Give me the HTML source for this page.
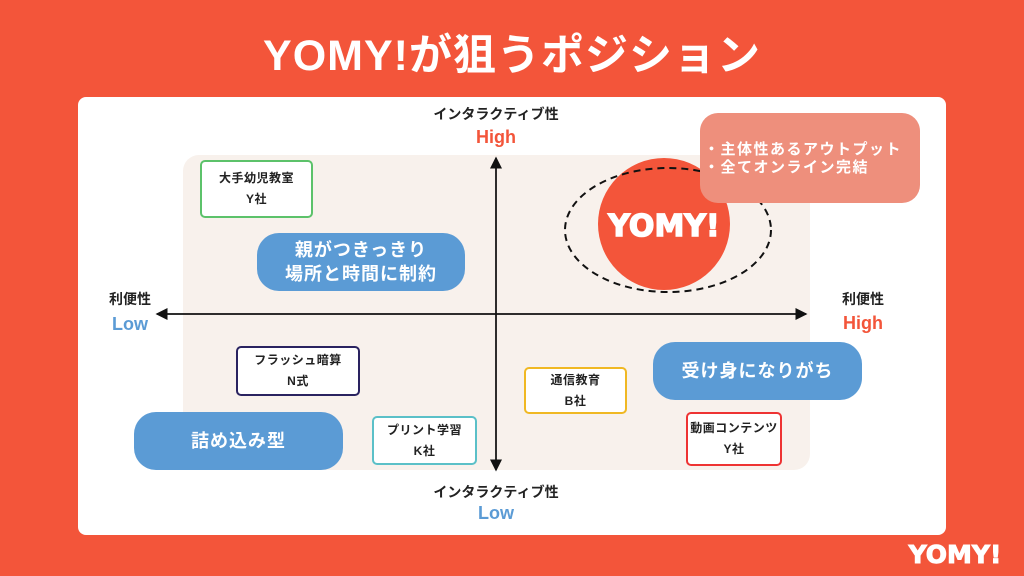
<!DOCTYPE html>
<html><head><meta charset="utf-8"><style>
*{margin:0;padding:0;box-sizing:border-box}
body{width:1024px;height:576px;background:#f3553a;position:relative;overflow:hidden;font-family:"Liberation Sans","Noto Sans CJK JP",sans-serif;}
.a{position:absolute}
.title{left:0;width:1024px;top:28px;text-align:center;color:#fff;font-size:43px;font-weight:bold;line-height:56px;letter-spacing:1px}
.panel{left:78px;top:97px;width:868px;height:438px;background:#fff;border-radius:8px}
.beige{left:183px;top:155px;width:627px;height:315px;background:#f8f1ec;border-radius:16px}
.box{position:absolute;background:#fff;border:2px solid;border-radius:5px;text-align:center;font-size:12px;font-weight:bold;color:#222;display:flex;flex-direction:column;justify-content:center;line-height:21px;letter-spacing:0.5px}
.pill{position:absolute;background:#5b9bd5;color:#fff;border-radius:22px;text-align:center;font-size:18px;font-weight:bold;display:flex;flex-direction:column;justify-content:center;line-height:24px;letter-spacing:1px}
.lbl{font-size:14px;font-weight:bold;color:#222;text-align:center}
.big{font-size:18px;font-weight:bold;text-align:center}
</style></head><body>
<div class="a title">YOMY!が狙うポジション</div>
<div class="a panel"></div>
<div class="a beige"></div>
<svg class="a" style="left:0;top:0" width="1024" height="576">
<defs><marker id="m" markerWidth="8" markerHeight="8" refX="7" refY="4" orient="auto"><path d="M0,0 L8,4 L0,8 z" fill="#111"/></marker></defs>
<line x1="496" y1="468" x2="496" y2="158" stroke="#111" stroke-width="1.5" marker-end="url(#m)"/>
<line x1="496" y1="160" x2="496" y2="470" stroke="#111" stroke-width="1.5" marker-end="url(#m)"/>
<line x1="160" y1="314" x2="806" y2="314" stroke="#111" stroke-width="1.5" marker-end="url(#m)"/>
<line x1="806" y1="314" x2="157" y2="314" stroke="#111" stroke-width="1.5" marker-end="url(#m)"/>
<circle cx="664" cy="224" r="66" fill="#f3553a"/>
<ellipse cx="668" cy="230" rx="103" ry="62" fill="none" stroke="#111" stroke-width="2" stroke-dasharray="7,5"/>
<text x="664" y="236" text-anchor="middle" font-family="DejaVu Sans,sans-serif" font-weight="bold" font-size="30" fill="#fff" stroke="#fff" stroke-width="1.5">YOMY!</text>
</svg>
<div class="a" style="left:700px;top:113px;width:220px;height:90px;background:#ee8f7c;border-radius:18px;color:#fff;font-size:15px;font-weight:bold;line-height:18px;padding:28px 0 0 4px;letter-spacing:1.5px">・主体性あるアウトプット<br>・全てオンライン完結</div>
<div class="a lbl" style="left:396px;top:104px;width:200px">インタラクティブ性</div>
<div class="a big" style="left:396px;top:127px;width:200px;color:#f3553a">High</div>
<div class="a lbl" style="left:396px;top:482px;width:200px">インタラクティブ性</div>
<div class="a big" style="left:396px;top:503px;width:200px;color:#5b9bd5">Low</div>
<div class="a lbl" style="left:90px;top:289px;width:80px">利便性</div>
<div class="a big" style="left:90px;top:314px;width:80px;color:#5b9bd5">Low</div>
<div class="a lbl" style="left:823px;top:289px;width:80px">利便性</div>
<div class="a big" style="left:823px;top:313px;width:80px;color:#f3553a">High</div>
<div class="box" style="left:200px;top:160px;width:113px;height:58px;border-color:#5cc26a">大手幼児教室<br>Y社</div>
<div class="pill" style="left:257px;top:233px;width:208px;height:58px">親がつきっきり<br>場所と時間に制約</div>
<div class="box" style="left:236px;top:346px;width:124px;height:50px;border-color:#2a2360">フラッシュ暗算<br>N式</div>
<div class="pill" style="left:134px;top:412px;width:209px;height:58px">詰め込み型</div>
<div class="box" style="left:372px;top:416px;width:105px;height:49px;border-color:#5bc0c8">プリント学習<br>K社</div>
<div class="box" style="left:524px;top:367px;width:103px;height:47px;border-color:#f0b823">通信教育<br>B社</div>
<div class="pill" style="left:653px;top:342px;width:209px;height:58px">受け身になりがち</div>
<div class="box" style="left:686px;top:412px;width:96px;height:54px;border-color:#e33">動画コンテンツ<br>Y社</div>
<div class="a" style="left:893px;top:537px;width:124px;color:#fff;font-family:'DejaVu Sans',sans-serif;font-weight:bold;font-size:25px;text-align:center;line-height:36px;-webkit-text-stroke:1px #fff">YOMY!</div>
</body></html>
